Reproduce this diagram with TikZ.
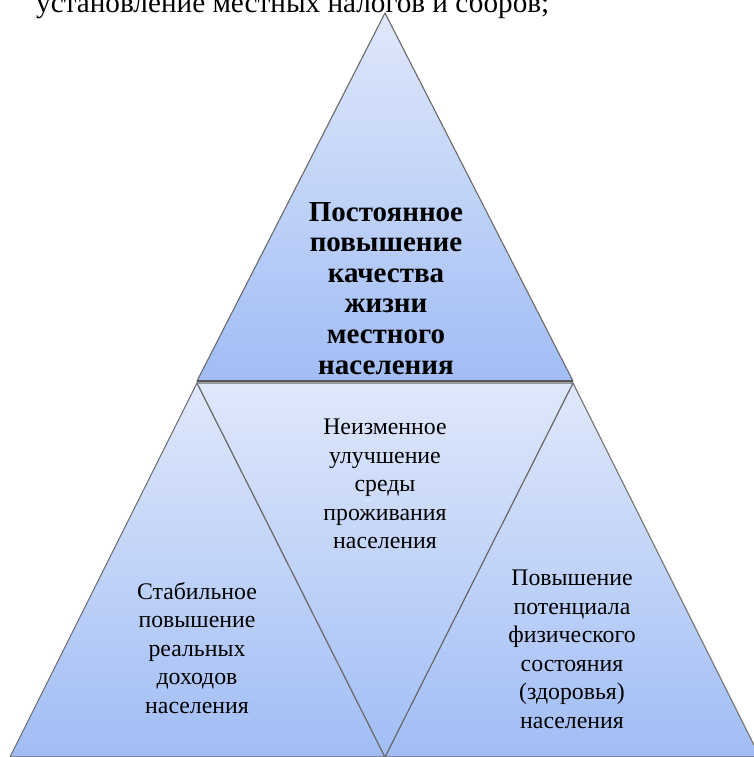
\documentclass[tikz,border=0pt]{standalone}
\usepackage{fontspec}
\setmainfont{Liberation Serif}
\definecolor{toplt}{HTML}{DFE8FB}
\definecolor{botdk}{HTML}{A1BDF5}
\definecolor{edge}{HTML}{6A6A6A}
\begin{document}
\begin{tikzpicture}[x=1pt,y=-1pt,
  tri/.style={draw=edge, line width=1.1pt, line join=round, top color=toplt, bottom color=botdk},
  txt/.style={align=center, font=\fontsize{23.8}{28.5}\selectfont, inner sep=0pt, anchor=north},
  btxt/.style={align=center, font=\fontsize{29}{30.6}\selectfont\bfseries, inner sep=0pt, anchor=north}]
\useasboundingbox (0,0) rectangle (754,757);
\begin{scope}
\clip (0,0) rectangle (754,757);
% lower triangles
\path[tri] (197,383) -- (385,757) -- (10,757) -- cycle;
\path[tri] (573,383) -- (760,757) -- (385,757) -- cycle;
\path[tri] (197,383) -- (573,383) -- (385,757) -- cycle;
% top triangle
\path[tri] (385,13) -- (573,381) -- (197,381) -- cycle;
\draw[edge!80!black, line width=1.6pt] (197,381) -- (573,381);
\end{scope}
\node[anchor=base west, inner sep=0pt, font=\fontsize{29.2}{32}\selectfont] (head) at (36,13) {установление местных налогов и сборов;};
\node[btxt] (t1) at (386,202) {Постоянное\\повышение\\качества\\жизни\\местного\\населения};
\node[txt] (t2) at (385,419) {Неизменное\\улучшение\\среды\\проживания\\населения};
\node[txt] (t3) at (197,582) {Стабильное\\повышение\\реальных\\доходов\\населения};
\node[txt] (t4) at (572,570) {Повышение\\потенциала\\физического\\состояния\\(здоровья)\\населения};
\end{tikzpicture}
\end{document}
